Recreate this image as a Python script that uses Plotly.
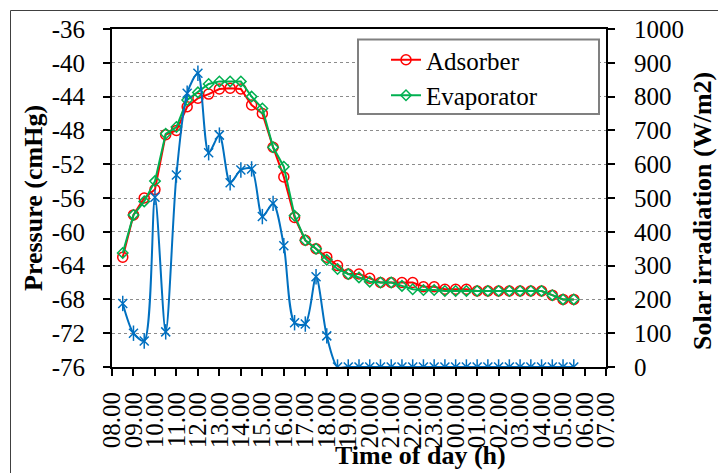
import pandas as pd
import plotly.graph_objects as go

# ---- data ----
times = pd.date_range("2024-01-01 08:30", periods=43, freq="30min")

adsorber = [-63.0, -58.0, -56.0, -55.0, -48.5, -48.0, -45.2, -44.2, -43.7, -43.1,
            -43.0, -43.1, -45.0, -46.0, -50.0, -53.5, -58.3, -61.0, -62.0, -63.0,
            -64.0, -65.0, -65.0, -65.5, -66.0, -66.0, -66.0, -66.0, -66.5, -66.5,
            -66.8, -66.8, -66.8, -67.0, -67.0, -67.0, -67.0, -67.0, -67.0, -67.0,
            -67.5, -68.0, -68.0]

evaporator = [-62.5, -58.0, -56.4, -54.0, -48.4, -47.6, -44.4, -43.5, -42.5, -42.2,
              -42.2, -42.2, -44.0, -45.4, -50.0, -52.3, -58.1, -61.0, -62.0, -63.3,
              -64.4, -65.0, -65.4, -65.9, -66.0, -66.0, -66.4, -66.8, -66.9, -66.9,
              -67.0, -67.0, -67.0, -67.0, -67.0, -67.0, -67.0, -67.0, -67.0, -67.0,
              -67.5, -68.0, -68.0]

solar = [188, 100, 77, 502, 104, 568, 810, 869, 634, 686,
         545, 583, 586, 445, 484, 359, 131, 127, 267, 92,
         0, 0, 0, 0, 0, 0, 0, 0, 0, 0,
         0, 0, 0, 0, 0, 0, 0, 0, 0, 0,
         0, 0, 0]

pressure_ticks = [-76, -72, -68, -64, -60, -56, -52, -48, -44, -40, -36]
pressure_ticktext = ["-76", "-72", "-68", "-64", "-60", "-56", "-52", "-48", "-44", "-40", "-36"]

FONT = "Liberation Serif"
BLUE = "#0070C0"

fig = go.Figure()
fig.add_trace(go.Scatter(
    x=times, y=adsorber, name="Adsorber", mode="lines+markers",
    line=dict(color="#FF0000", width=2),
    marker=dict(symbol="circle-open", size=10, color="#FF0000", line=dict(width=1.5)),
))
fig.add_trace(go.Scatter(
    x=times, y=evaporator, name="Evaporator", mode="lines+markers",
    line=dict(color="#00B050", width=2),
    marker=dict(symbol="diamond-open", size=8, color="#00B050", line=dict(width=1.5)),
))
fig.add_trace(go.Scatter(
    x=times, y=solar, name="Solar irradiation", mode="lines+markers", yaxis="y2",
    showlegend=False,
    line=dict(color=BLUE, width=2, shape="spline", smoothing=0.8),
    marker=dict(symbol="x-thin-open", size=9, color=BLUE, line=dict(width=1.5, color=BLUE)),
))
# vertical stroke of the star marker
fig.add_trace(go.Scatter(
    x=times, y=solar, mode="markers", yaxis="y2", showlegend=False, hoverinfo="skip",
    marker=dict(symbol="line-ns-open", size=11, color=BLUE, line=dict(width=1.5, color=BLUE)),
))

L, R, T, B = 112, 112, 29, 106
W, H = 718, 473
pw, ph = W - L - R, H - T - B


def px(xp):
    return (xp - L) / pw


def py(yp):
    return (H - B - yp) / ph


fig.update_layout(
    width=W, height=H,
    margin=dict(l=L, r=R, t=T, b=B, pad=0),
    paper_bgcolor="white", plot_bgcolor="white",
    font=dict(family=FONT, size=25, color="black"),
    showlegend=True,
    legend=dict(x=px(386), y=py(37), xanchor="left", yanchor="top",
                bgcolor="rgba(0,0,0,0)", borderwidth=0,
                font=dict(family=FONT, size=25, color="black"),
                tracegroupgap=0),
    xaxis=dict(
        type="date",
        range=["2024-01-01 08:00", "2024-01-02 07:00"],
        tick0="2024-01-01 08:00", dtick=3600000,
        tickformat="%H.%M", tickangle=-90,
        showgrid=False, zeroline=False,
        showline=True, linecolor="black", linewidth=2, mirror=True,
        ticks="outside", ticklen=7, tickwidth=1.5, tickcolor="black",
        ticklabelstandoff=6,
        tickfont=dict(family=FONT, size=25, color="black"),
    ),
    yaxis=dict(
        range=[-76, -36], tickmode="array",
        tickvals=pressure_ticks, ticktext=pressure_ticktext,
        showgrid=True, gridcolor="#8c8c8c", gridwidth=1, griddash="dot",
        zeroline=False,
        showline=True, linecolor="black", linewidth=2,
        ticks="outside", ticklen=7, tickwidth=1.5, tickcolor="black",
        ticklabelstandoff=13,
        tickfont=dict(family=FONT, size=25, color="black"),
    ),
    yaxis2=dict(
        range=[0, 1000], tick0=0, dtick=100,
        overlaying="y", side="right",
        showgrid=False, zeroline=False,
        showline=True, linecolor="black", linewidth=2,
        ticks="outside", ticklen=7, tickwidth=1.5, tickcolor="black",
        ticklabelstandoff=14,
        tickfont=dict(family=FONT, size=25, color="black"),
    ),
    shapes=[
        # outer chart border
        dict(type="line", xref="paper", yref="paper",
             x0=px(10.5), x1=px(10.5), y0=py(473), y1=py(10.5),
             line=dict(color="#404040", width=1), layer="above"),
        dict(type="line", xref="paper", yref="paper",
             x0=px(10.5), x1=px(718), y0=py(10.5), y1=py(10.5),
             line=dict(color="#404040", width=1), layer="above"),
        # legend box
        dict(type="rect", xref="paper", yref="paper",
             x0=px(358), x1=px(599), y0=py(114), y1=py(39.5),
             line=dict(color="#808080", width=2), fillcolor="white", layer="above"),
    ],
    annotations=[
        dict(text="<b>Pressure (cmHg)</b>", xref="paper", yref="paper",
             x=px(33), y=py(198), textangle=-90, showarrow=False,
             xanchor="center", yanchor="middle",
             font=dict(family=FONT, size=26, color="black")),
        dict(text="<b>Solar irradiation (W/m2)</b>", xref="paper", yref="paper",
             x=px(702), y=py(211), textangle=-90, showarrow=False,
             xanchor="center", yanchor="middle",
             font=dict(family=FONT, size=26, color="black")),
        dict(text="<b>Time of day (h)</b>", xref="paper", yref="paper",
             x=px(420), y=py(455), showarrow=False,
             xanchor="center", yanchor="middle",
             font=dict(family=FONT, size=26, color="black")),
    ],
)

fig.write_html("out.html", config={"displayModeBar": False})

# remove the browser's default page margin so the figure sits at the top-left corner
with open("out.html", "r", encoding="utf-8") as f:
    html = f.read()
html = html.replace("<head>", "<head><style>html,body{margin:0;padding:0;overflow:hidden;}</style>", 1)
with open("out.html", "w", encoding="utf-8") as f:
    f.write(html)
